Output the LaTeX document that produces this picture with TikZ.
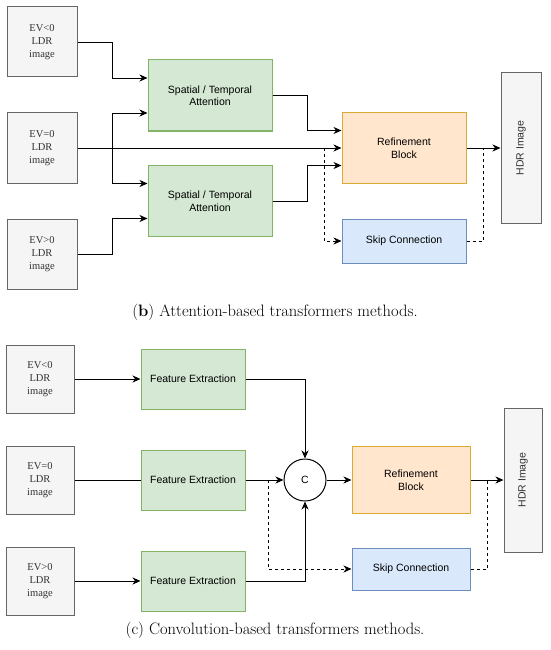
\documentclass[tikz,border=0pt]{standalone}
\usepackage{fontspec}
\setsansfont{Liberation Sans}
\newfontfamily\timesf{Liberation Serif}
\usetikzlibrary{arrows.meta,calc}
\definecolor{grisfondo}{HTML}{F5F5F5}
\definecolor{grisborde}{HTML}{666666}
\definecolor{gristexto}{HTML}{333333}
\definecolor{verdefondo}{HTML}{D5E8D4}
\definecolor{verdeborde}{HTML}{82B366}
\definecolor{narfondo}{HTML}{FFE6CC}
\definecolor{narborde}{HTML}{DDAA33}
\definecolor{azulfondo}{HTML}{DAE8FC}
\definecolor{azulborde}{HTML}{6C8EBF}
\begin{document}
\begin{tikzpicture}[x=1pt,y=-1pt,
    entrada/.style={draw=grisborde,fill=grisfondo,line width=1pt,inner sep=0pt,
        minimum width=70pt,minimum height=70pt,align=center,
        font=\timesf\fontsize{10.5}{12.7}\selectfont,text=gristexto},
    atencion/.style={draw=verdeborde,fill=verdefondo,line width=1pt,inner sep=0pt,
        minimum width=124pt,minimum height=71pt,align=center,
        font=\sffamily\fontsize{10.5}{12.5}\selectfont},
    refino/.style={draw=narborde,fill=narfondo,line width=1pt,inner sep=0pt,
        minimum width=124pt,minimum height=71pt,align=center,
        font=\sffamily\fontsize{10.5}{12.5}\selectfont},
    salto/.style={draw=azulborde,fill=azulfondo,line width=1pt,inner sep=0pt,
        minimum width=124pt,minimum height=44pt,align=center,
        font=\sffamily\fontsize{10.5}{12.5}\selectfont},
    salida/.style={draw=grisborde,fill=grisfondo,line width=1pt,inner sep=0pt,
        minimum width=40pt,minimum height=150pt,
        font=\sffamily\fontsize{10}{12}\selectfont,text=gristexto},
    rotulo/.style={rotate=90,font=\sffamily\fontsize{10.5}{12}\selectfont,text=gristexto},
    flecha/.style={line width=0.9pt,-{Stealth[length=8pt,width=7pt,inset=2.5pt]}},
    linea/.style={line width=0.9pt},
    punteada/.style={line width=0.9pt,dash pattern=on 3pt off 3pt},
    leyenda/.style={font=\fontsize{16.5}{19}\selectfont}]
    \useasboundingbox (0,0) rectangle (550,650);

    % (b) atencion
    \node[entrada] (ev1) at (42,42) {EV<0\\LDR\\image};
    \node[entrada] (ev2) at (42,148) {EV=0\\LDR\\image};
    \node[entrada] (ev3) at (42,254) {EV>0\\LDR\\image};

    \node[atencion] (att1) at (210,95.5) {Spatial / Temporal\\Attention};
    \node[atencion] (att2) at (210,201) {Spatial / Temporal\\Attention};
    \node[refino] (ref1) at (404,148) {Refinement\\Block};
    \node[salto] (skip1) at (404,241) {Skip Connection};
    \node[salida] (hdr1) at (521,148) {};
    \node[rotulo] (hdrt1) at (hdr1) {HDR Image};

    \coordinate (bif1) at (112,148);
    \coordinate (sk1) at (324,148);
    \coordinate (mg1) at (483,148);

    \draw[flecha] (ev1.east) -- ++(35,0) |- ([yshift=17.5pt]att1.west);
    \draw[flecha] (ev3.east) -- ++(35,0) |- ([yshift=-17.5pt]att2.west);
    \draw[flecha] (ev2.east) -- (ref1.west);
    \draw[flecha] (bif1) |- ([yshift=-17.5pt]att1.west);
    \draw[flecha] (bif1) |- ([yshift=17.5pt]att2.west);
    \draw[flecha] (att1.east) -- ++(35,0) |- ([yshift=17.5pt]ref1.west);
    \draw[flecha] (att2.east) -- ++(35,0) |- ([yshift=-17.5pt]ref1.west);
    \draw[flecha] (ref1.east) -- (hdr1.west);
    \draw[flecha,punteada] (sk1) |- (skip1.west);
    \draw[punteada] (skip1.east) -| (mg1);

    \node[leyenda] (capb) at (275,312) {(\textbf{b}) Attention-based transformers methods.};

    % (c) convolucion
    \node[entrada,minimum width=68pt,minimum height=68pt] (ev4) at (40,379) {EV<0\\LDR\\image};
    \node[entrada,minimum width=68pt,minimum height=68pt] (ev5) at (40,480) {EV=0\\LDR\\image};
    \node[entrada,minimum width=68pt,minimum height=68pt] (ev6) at (40,581) {EV>0\\LDR\\image};

    \node[atencion,minimum width=104pt,minimum height=60pt] (fe1) at (193,379) {Feature Extraction};
    \node[atencion,minimum width=104pt,minimum height=60pt] (fe2) at (193,480) {Feature Extraction};
    \node[atencion,minimum width=104pt,minimum height=60pt] (fe3) at (193,581) {Feature Extraction};

    \node[circle,draw,fill=white,line width=1pt,minimum size=42pt,inner sep=0pt,
        font=\sffamily\fontsize{10.5}{12}\selectfont] (cc) at (305,480) {C};
    \node[refino,minimum width=118pt,minimum height=67pt] (ref2) at (411,480) {Refinement\\Block};
    \node[salto,minimum width=118pt,minimum height=42pt] (skip2) at (411,569) {Skip Connection};
    \node[salida,minimum width=38pt,minimum height=144pt] (hdr2) at (523,480) {};
    \node[rotulo] (hdrt2) at (hdr2) {HDR Image};

    \coordinate (sk2) at (268,480);
    \coordinate (mg2) at (487,480);

    \draw[flecha] (ev4.east) -- (fe1.west);
    \draw[linea] (ev5.east) -- (fe2.west);
    \draw[flecha] (ev6.east) -- (fe3.west);
    \draw[flecha] (fe1.east) -| (cc.north);
    \draw[flecha] (fe2.east) -- (cc.west);
    \draw[flecha] (fe3.east) -| (cc.south);
    \draw[flecha] (cc.east) -- (ref2.west);
    \draw[flecha] (ref2.east) -- (hdr2.west);
    \draw[flecha,punteada] (sk2) |- (skip2.west);
    \draw[punteada] (skip2.east) -| (mg2);

    \node[leyenda] (capc) at (275,630) {(c) Convolution-based transformers methods.};

\end{tikzpicture}
\end{document}
